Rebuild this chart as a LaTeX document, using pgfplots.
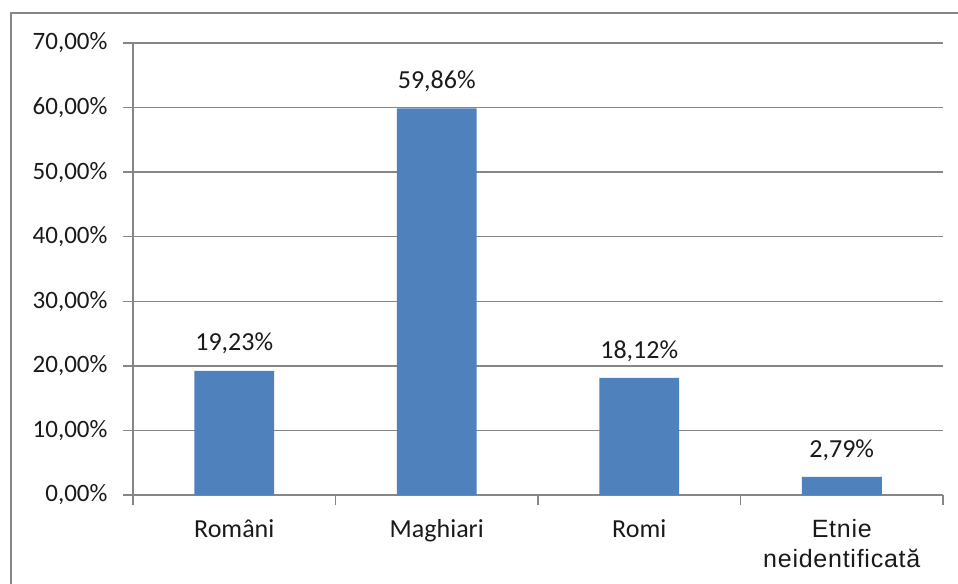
\documentclass[border=0pt]{standalone}
\usepackage{pgfplots}
\pgfplotsset{compat=1.18}
\usepackage{fontspec}
\setmainfont{Carlito}
\newfontfamily\arialfont[LetterSpace=3]{Liberation Sans}
\definecolor{barblue}{HTML}{4F81BD}
\definecolor{axgray}{HTML}{868686}
\definecolor{txt}{HTML}{1A1A1A}
\begin{document}
\begin{tikzpicture}
\useasboundingbox (-133bp,-89bp) rectangle (825bp,495bp);
\clip (-133bp,-89bp) rectangle (825bp,495bp);
\draw[axgray, line width=2bp] (-122bp,-150bp) rectangle (900bp,482bp);
\begin{axis}[
  at={(0,0)}, anchor=south west,
  scale only axis, width=810bp, height=452bp,
  xmin=-0.5, xmax=3.5, ymin=0, ymax=70,
  axis lines*=left,
  axis line style={axgray, line width=1.3bp},
  tick style={axgray, line width=1.3bp},
  tick align=outside,
  major tick length=10bp,
  ymajorgrids, grid style={axgray, line width=1.3bp},
  ytick={0,10,...,70},
  /pgf/number format/assume math mode=true,
  yticklabel={\pgfmathprintnumber[fixed,fixed zerofill,precision=2,use comma]{\tick}\%},
  yticklabel style={font=\fontsize{25bp}{30bp}\selectfont, text=txt, xshift=-12bp},
  xtick={-0.5,0.5,1.5,2.5,3.5},
  xticklabels={},
  extra x ticks={0,1,2,3},
  extra x tick labels={Români,Maghiari,Romi,{\arialfont\fontsize{25bp}{30bp}\selectfont Etnie}\\{\arialfont\fontsize{25bp}{30bp}\selectfont neidentificată}},
  extra x tick style={major tick length=0pt, tick label style={font=\fontsize{26bp}{30bp}\selectfont, text=txt, align=center, yshift=-21bp}},
  nodes near coords={\pgfmathprintnumber[fixed,fixed zerofill,precision=2,use comma]{\pgfplotspointmeta}\%},
  every node near coord/.append style={font=\fontsize{26bp}{30bp}\selectfont, text=txt, yshift=13bp},
  clip=false,
]
\addplot[ybar, bar width=0.395, fill=barblue, draw=none] coordinates {(0,19.23) (1,59.86) (2,18.12) (3,2.79)};
\end{axis}
\end{tikzpicture}
\end{document}
